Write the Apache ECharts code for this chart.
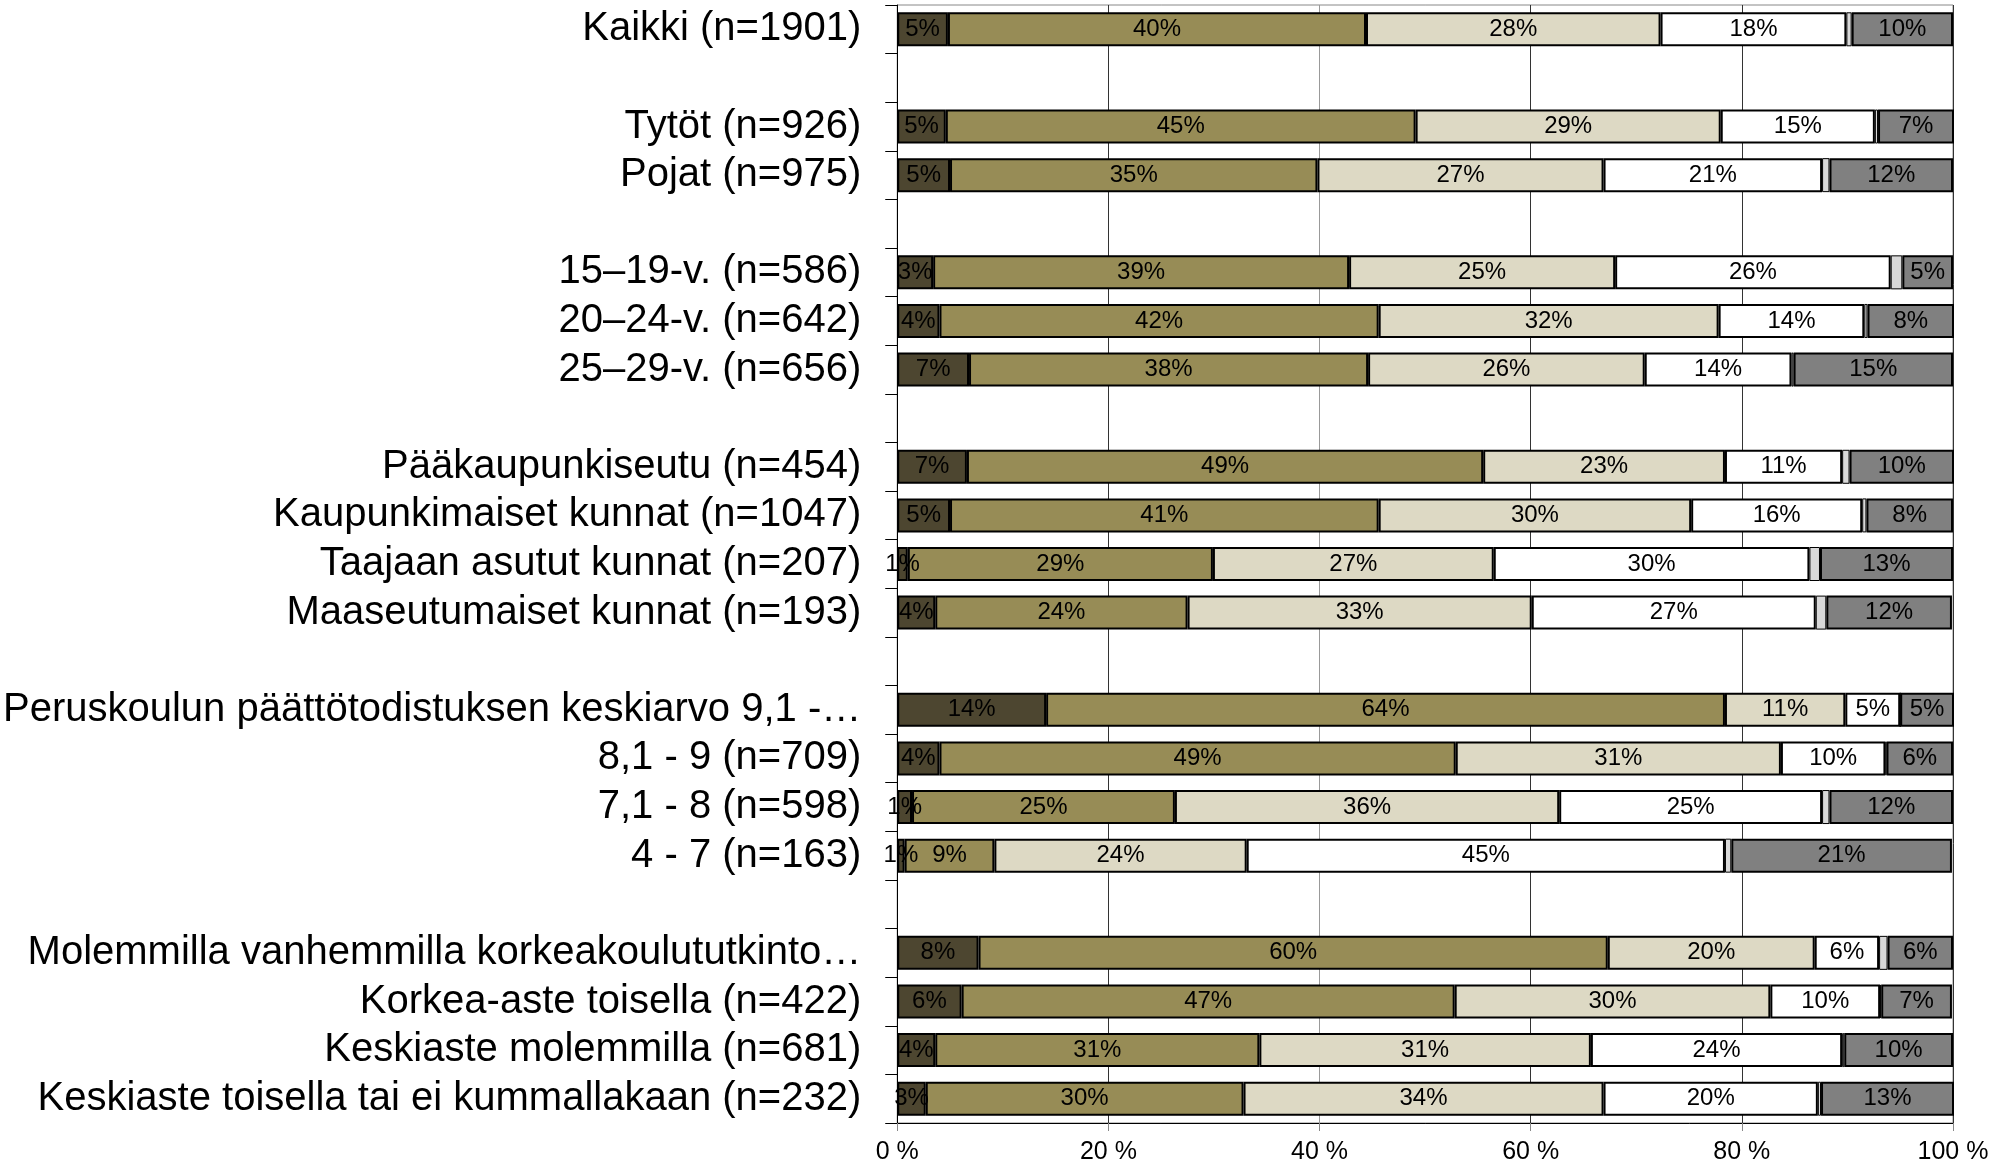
<!DOCTYPE html>
<html>
<head>
<meta charset="utf-8">
<script src="https://cdn.jsdelivr.net/npm/echarts@6/dist/echarts.min.js"></script>
<style>
  html, body { margin: 0; padding: 0; background: #fff; }
  #chart { width: 2011px; height: 1168px; }
</style>
</head>
<body>
<div id="chart"></div>
<script>
// rows top to bottom, '' = spacer row between groups
const categories = [
  'Kaikki (n=1901)', '',
  'Tytöt (n=926)', 'Pojat (n=975)', '',
  '15–19-v. (n=586)', '20–24-v. (n=642)', '25–29-v. (n=656)', '',
  'Pääkaupunkiseutu (n=454)', 'Kaupunkimaiset kunnat (n=1047)', 'Taajaan asutut kunnat (n=207)', 'Maaseutumaiset kunnat (n=193)', '',
  'Peruskoulun päättötodistuksen keskiarvo 9,1 -…', '8,1 - 9 (n=709)', '7,1 - 8 (n=598)', '4 - 7 (n=163)', '',
  'Molemmilla vanhemmilla korkeakoulututkinto…', 'Korkea-aste toisella (n=422)', 'Keskiaste molemmilla (n=681)', 'Keskiaste toisella tai ei kummallakaan (n=232)'
]

// shares in % (null = spacer row)
const seg1 = [4.8, null, 4.6, 5.0, null, 3.4, 4.0, 6.8, null, 6.6, 5.0, 1.0, 3.6, null, 14.1, 4.0, 1.4, 0.7, null, 7.7, 6.1, 3.6, 2.7]
const seg2 = [39.6, null, 44.5, 34.8, null, 39.4, 41.6, 37.8, null, 48.9, 40.6, 28.9, 23.9, null, 64.3, 48.9, 24.9, 8.5, null, 59.6, 46.7, 30.7, 30.1]
const seg3 = [27.9, null, 28.9, 27.1, null, 25.2, 32.2, 26.2, null, 22.9, 29.6, 26.6, 32.6, null, 11.4, 30.8, 36.4, 23.9, null, 19.6, 29.9, 31.4, 34.1]
const seg4 = [17.6, null, 14.6, 20.7, null, 26.1, 13.8, 13.9, null, 11.1, 16.2, 29.9, 26.9, null, 5.2, 9.9, 24.9, 45.3, null, 6.1, 10.4, 23.8, 20.3]
const seg5 = [0.5, null, 0.3, 0.7, null, 1.1, 0.3, 0.2, null, 0.7, 0.4, 1.0, 1.0, null, 0, 0.1, 0.7, 0.6, null, 0.8, 0.1, 0.2, 0.3]
const seg6 = [9.6, null, 7.2, 11.7, null, 4.8, 8.2, 15.1, null, 9.9, 8.2, 12.6, 11.9, null, 5.1, 6.3, 11.7, 20.9, null, 6.2, 6.7, 10.3, 12.6]

const xTicks = [0, 20, 40, 60, 80, 100]

const segments = [
  { data: seg1, color: '#4d4630', label: true, border: 2 },
  { data: seg2, color: '#978c56', label: true, border: 2 },
  { data: seg3, color: '#ddd9c4', label: true, border: 2 },
  { data: seg4, color: '#ffffff', label: true, border: 2 },
  { data: seg5, color: '#d9d9d9', label: false, border: 1 },
  { data: seg6, color: '#808080', label: true, border: 2 },
]

const chart = echarts.init(document.getElementById('chart'))

chart.setOption({
  animation: false,
  grid: {
    left: 896,
    right: 58,
    top: 5,
    bottom: 45,
    show: true,
    borderColor: '#888',
    borderWidth: 1,
  },
  xAxis: {
    type: 'value',
    min: xTicks[0],
    max: xTicks[xTicks.length - 1],
    interval: 20,
    axisLine: { show: true, lineStyle: { color: '#000', width: 1 } },
    axisTick: { show: true, length: 8, lineStyle: { color: '#888' } },
    axisLabel: {
      formatter: v => v + ' %',
      color: '#000',
      fontSize: 25,
      fontFamily: 'Liberation Sans, Arial, sans-serif',
      margin: 17,
    },
    splitLine: {
      show: true,
      lineStyle: { color: ['#333', '#333', '#999', '#333', '#333', '#333'], width: 1 },
    },
  },
  yAxis: {
    type: 'category',
    inverse: true,
    data: categories,
    axisLine: { show: true, lineStyle: { color: '#000', width: 1 } },
    axisTick: { show: true, length: 12, lineStyle: { color: '#000' } },
    axisLabel: {
      color: '#000',
      fontSize: 40,
      fontFamily: 'Liberation Sans, Arial, sans-serif',
      margin: 36,
      interval: 0,
    },
  },
  series: segments.map(s => ({
    type: 'bar',
    stack: 'total',
    data: s.data,
    barWidth: 34,
    itemStyle: { color: s.color, borderColor: '#000', borderWidth: s.border },
    label: {
      show: s.label,
      position: 'inside',
      formatter: p => Math.round(p.value) + '%',
      color: '#000',
      fontSize: 24,
      fontFamily: 'Liberation Sans, Arial, sans-serif',
    },
  })),
})
</script>
</body>
</html>
